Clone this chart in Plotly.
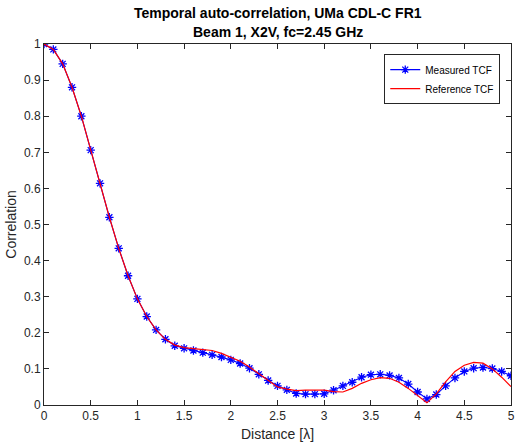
import plotly.graph_objects as go

x_meas = [round(i * 0.1, 1) for i in range(51)]
y_meas = [1.0, 0.985, 0.945, 0.88, 0.80, 0.706, 0.614, 0.52, 0.434, 0.358,
          0.294, 0.245, 0.208, 0.182, 0.164, 0.157, 0.151, 0.145, 0.139, 0.133,
          0.125, 0.115, 0.102, 0.085, 0.068, 0.053, 0.042, 0.032, 0.030, 0.030,
          0.031, 0.041, 0.053, 0.063, 0.077, 0.084, 0.085, 0.082, 0.075, 0.058,
          0.036, 0.017, 0.029, 0.053, 0.075, 0.093, 0.102, 0.104, 0.101, 0.093,
          0.081]

x_ref = [round(i * 0.1, 1) for i in range(51)]
y_ref = [1.0, 0.985, 0.945, 0.88, 0.80, 0.706, 0.614, 0.52, 0.434, 0.358,
         0.294, 0.245, 0.208, 0.182, 0.166, 0.159, 0.156, 0.154, 0.151, 0.143,
         0.133, 0.121, 0.105, 0.087, 0.068, 0.050, 0.044, 0.040, 0.041, 0.042,
         0.041, 0.037, 0.036, 0.046, 0.060, 0.070, 0.076, 0.074, 0.063, 0.046,
         0.026, 0.006, 0.031, 0.064, 0.093, 0.110, 0.118, 0.116, 0.100, 0.077,
         0.051]

x_ticks = [0, 0.5, 1, 1.5, 2, 2.5, 3, 3.5, 4, 4.5, 5]
y_ticks = [0, 0.1, 0.2, 0.3, 0.4, 0.5, 0.6, 0.7, 0.8, 0.9, 1]

title_lines = ["Temporal auto-correlation, UMa CDL-C FR1", "Beam 1, X2V, fc=2.45 GHz"]

FONT = "Liberation Sans, Arial, sans-serif"

fig = go.Figure()
fig.add_trace(go.Scatter(
    x=x_meas, y=y_meas, mode="lines+markers", name="Measured TCF",
    line=dict(color="#0000FF", width=1.1),
    marker=dict(symbol="asterisk-open", size=7, color="#0000FF",
                line=dict(color="#0000FF", width=1.3)),
))
fig.add_trace(go.Scatter(
    x=x_ref, y=y_ref, mode="lines", name="Reference TCF",
    line=dict(color="#FF0000", width=1.2),
))

axis_common = dict(
    showline=True, linecolor="#262626", linewidth=1, mirror="ticks",
    ticks="inside", ticklen=5, tickcolor="#262626", tickwidth=1,
    showgrid=False, zeroline=False, ticklabeloverflow="allow",
    tickfont=dict(family=FONT, size=12, color="#262626"),
)

plot_h = 445 - 44 - 40
annotations = [
    dict(text="<b>%s</b>" % title_lines[0], xref="paper", yref="paper",
         x=0.5, y=1 + (44 - 13) / plot_h, xanchor="center", yanchor="middle",
         showarrow=False, font=dict(family=FONT, size=14, color="black")),
    dict(text="<b>%s</b>" % title_lines[1], xref="paper", yref="paper",
         x=0.5, y=1 + (44 - 32.5) / plot_h, xanchor="center", yanchor="middle",
         showarrow=False, font=dict(family=FONT, size=14, color="black")),
]

fig.update_layout(
    width=516, height=445,
    margin=dict(l=44, r=1, t=44, b=40),
    paper_bgcolor="white", plot_bgcolor="white",
    font=dict(family=FONT, color="#262626"),
    annotations=annotations,
    xaxis=dict(range=[0, 5], tickvals=x_ticks,
               ticktext=[("%g" % v) for v in x_ticks],
               title=dict(text="Distance [λ]", standoff=6,
                          font=dict(family=FONT, size=14, color="#262626")),
               **axis_common),
    yaxis=dict(range=[0, 1], tickvals=y_ticks,
               ticktext=[("%g" % v) for v in y_ticks],
               title=dict(text="Correlation", standoff=4,
                          font=dict(family=FONT, size=14, color="#262626")),
               **axis_common),
    legend=dict(
        x=0.977, y=0.972, xanchor="right", yanchor="top",
        bgcolor="white", bordercolor="#262626", borderwidth=1,
        font=dict(family=FONT, size=10, color="black"),
        tracegroupgap=0, itemwidth=30,
    ),
    showlegend=True,
)

fig.write_html("out.html")
